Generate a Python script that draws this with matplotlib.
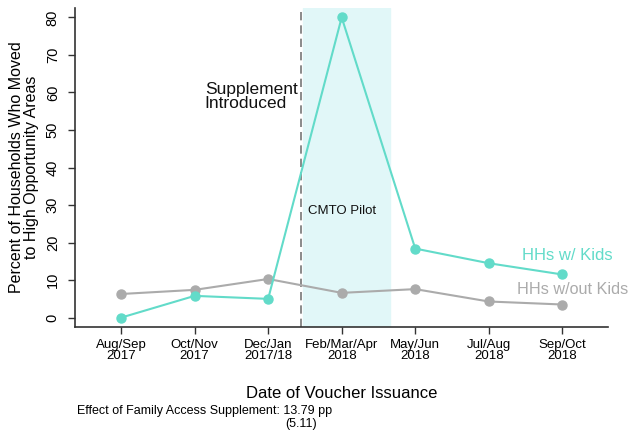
import matplotlib.pyplot as plt

plt.rcParams['font.family'] = ['Liberation Sans', 'DejaVu Sans']

# Data
periods = ['Aug/Sep\n2017', 'Oct/Nov\n2017', 'Dec/Jan\n2017/18', 'Feb/Mar/Apr\n2018',
           'May/Jun\n2018', 'Jul/Aug\n2018', 'Sep/Oct\n2018']
with_kids = [0.0, 5.8, 5.0, 80.0, 18.4, 14.5, 11.5]
without_kids = [6.3, 7.4, 10.3, 6.6, 7.6, 4.3, 3.5]
yticks = [0, 10, 20, 30, 40, 50, 60, 70, 80]

teal = '#62dbc9'
grey = '#ababab'

fig = plt.figure(figsize=(6.31, 4.34), dpi=100)
ax = fig.add_axes([0.119, 0.2465, 0.845, 0.735])

x = list(range(1, len(periods) + 1))

# CMTO pilot shading and supplement line
ax.axvspan(3.47, 4.66, color='#e1f7f8', zorder=0)
ax.axvline(3.45, color='#777777', linestyle=(0, (5, 3)), linewidth=1.2, zorder=1)

ax.plot(x, without_kids, color=grey, linewidth=1.5, marker='o', markersize=6.5, zorder=3)
ax.plot(x, with_kids, color=teal, linewidth=1.5, marker='o', markersize=6.5, zorder=4)

ax.set_xlim(0.375, 7.625)
ax.set_ylim(-2.5, 82.5)
ax.set_xticks(x)
ax.set_xticklabels(periods, fontsize=9.5, linespacing=0.95)
ax.set_yticks(yticks)
ax.set_yticklabels([str(v) for v in yticks], fontsize=10.5, rotation=90, va='center')

for s in ['top', 'right']:
    ax.spines[s].set_visible(False)
for s in ['left', 'bottom']:
    ax.spines[s].set_color('#333333')
    ax.spines[s].set_linewidth(1.2)
ax.tick_params(direction='out', length=5, color='#333333', width=1)
ax.tick_params(axis='y', pad=6)

ax.set_ylabel('Percent of Households Who Moved\nto High Opportunity Areas', fontsize=11.5,
              linespacing=0.95, labelpad=5)
ax.set_xlabel('Date of Voucher Issuance', fontsize=12, labelpad=17)

# Annotations
ax.text(3.4, 59.0, 'Supplement\nIntroduced', fontsize=12.5, ha='right', va='center',
        multialignment='left', linespacing=0.95, color='#111111')
ax.text(4.0, 28.5, 'CMTO Pilot', fontsize=9.5, ha='center', va='center', color='#111111')
ax.text(7.07, 16.6, 'HHs w/ Kids', fontsize=12, ha='center', va='center', color=teal)
ax.text(6.38, 7.4, 'HHs w/out Kids', fontsize=11.7, ha='left', va='center', color=grey,
        clip_on=False)

fig.text(77 / 631, 1 - 411 / 434, 'Effect of Family Access Supplement: 13.79 pp',
         fontsize=9, ha='left', va='center')
fig.text(301 / 631, 1 - 424 / 434, '(5.11)', fontsize=9, ha='center', va='center')

fig.savefig('out.png', dpi=100)
